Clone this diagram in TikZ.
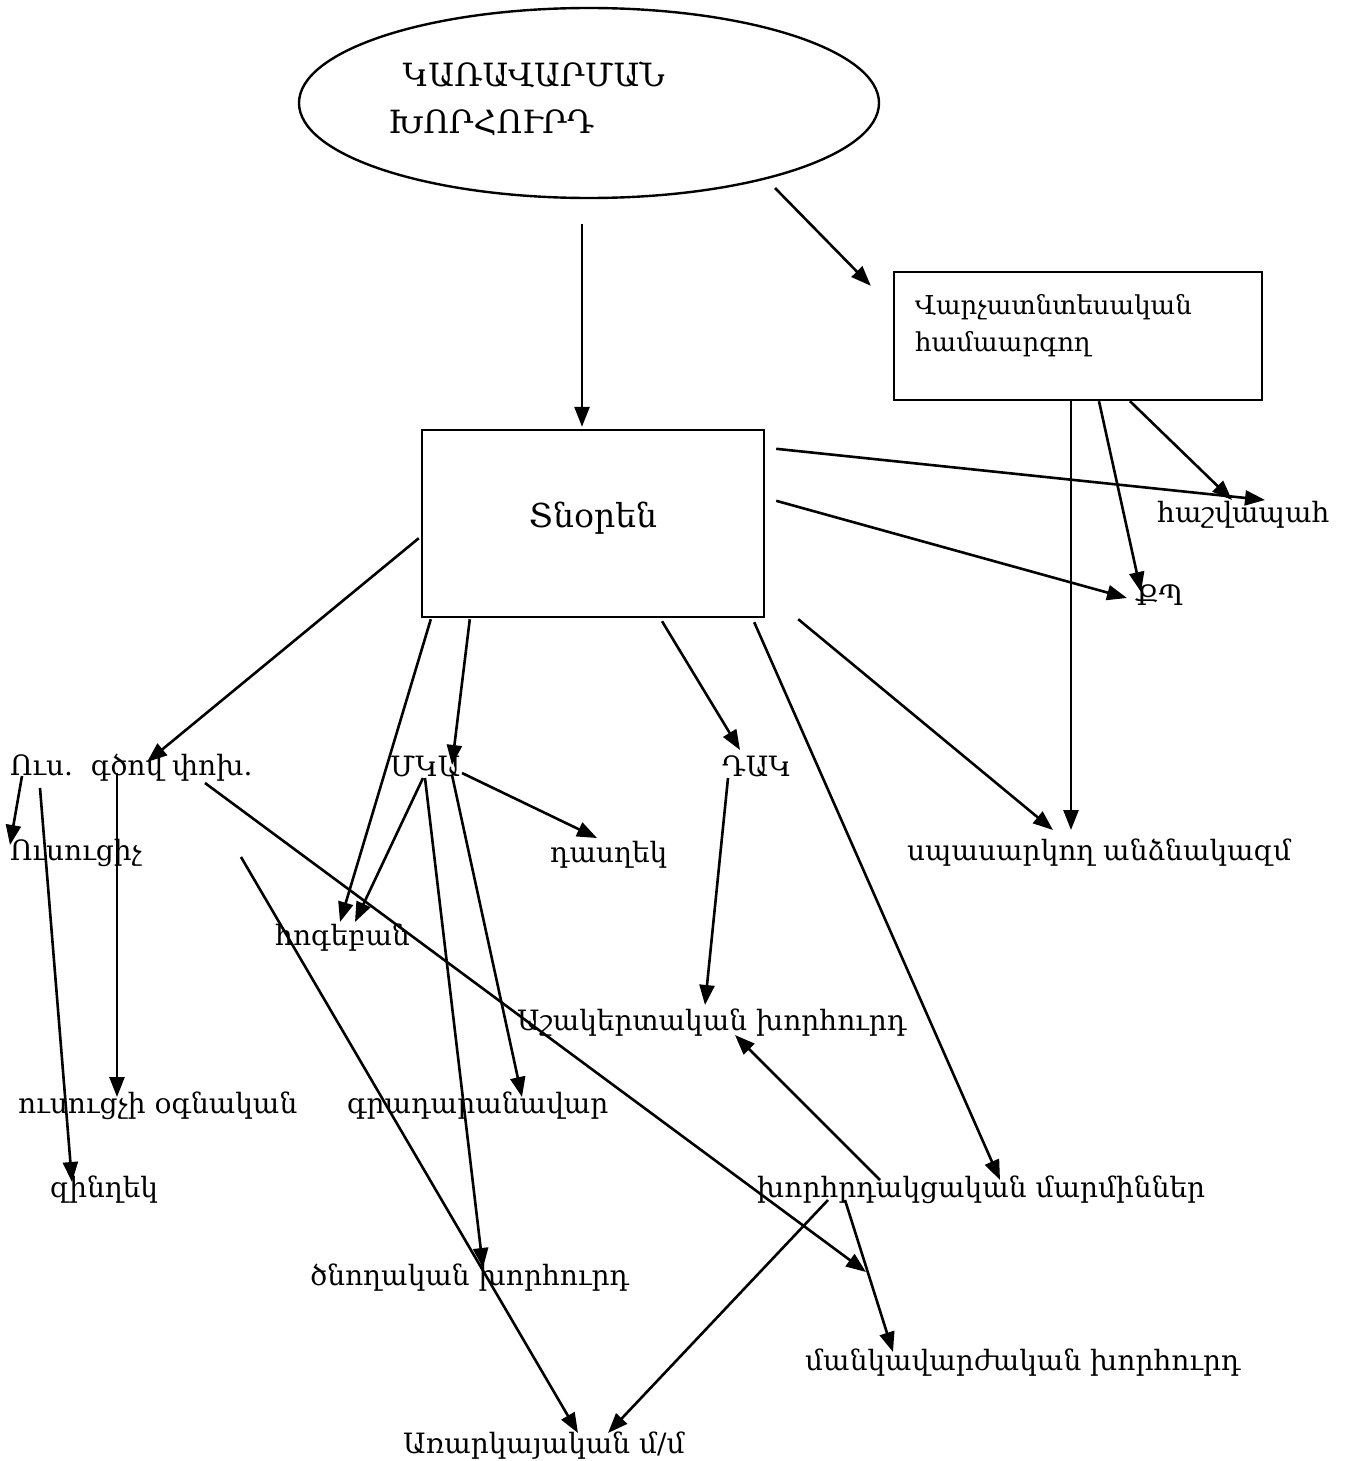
\documentclass[tikz,border=0pt]{standalone}
\usepackage{fontspec}
\setmainfont{DejaVu Serif}
\usetikzlibrary{shapes.geometric,arrows.meta}

\begin{document}
\begin{tikzpicture}[x=1pt,y=-1pt]
\tikzstyle{lbl} = [anchor=base west, inner sep=0, font=\fontsize{28}{37}\selectfont]
\tikzstyle{arrow} = [-{Triangle[length=20pt,width=15pt]}, line width=2.6pt]
\tikzstyle{frame} = [draw, line width=2.4pt, inner sep=0]
\useasboundingbox (0,0) rectangle (1349,1461);

% top level
\node[frame, ellipse, minimum width=580, minimum height=190] (council) at (589,103) {};
\node[anchor=north west, inner sep=0, align=left, font=\fontsize{32}{47}\selectfont] (counciltext) at (388,62) {\hspace{0.45em}ԿԱՌԱՎԱՐՄԱՆ\\ԽՈՐՀՈՒՐԴ};
\node[frame, minimum width=368, minimum height=128] (admin) at (1078,336) {};
\node[anchor=north west, inner sep=0, align=left, font=\fontsize{26}{37}\selectfont] (admintext) at (915,294) {Վարչատնտեսական\\համաարգող};
\node[frame, minimum width=342, minimum height=187, text height=24, text depth=16, font=\fontsize{33}{40}\selectfont] (dir) at (593,523.5) {Տնօրեն};

% labels
\node[lbl] (acct) at (1157,522) {հաշվապահ};
\node[lbl] (qp) at (1135,605) {ՔՊ};
\node[lbl] (deputy) at (10,775) {Ուս.\ \ գծով փոխ.};
\node[lbl] (teacher) at (10,860) {Ուսուցիչ};
\node[lbl] (mka) at (390,776) {ՄԿԱ};
\node[lbl] (dak) at (722,776) {ԴԱԿ};
\node[lbl] (classhead) at (550,862) {դասղեկ};
\node[lbl] (staff) at (907,860) {սպասարկող անձնակազմ};
\node[lbl] (psych) at (275,945) {հոգեբան};
\node[lbl] (stcouncil) at (517,1030) {Աշակերտական խորհուրդ};
\node[lbl] (assist) at (18,1113) {ուսուցչի օգնական};
\node[lbl] (librarian) at (347,1113) {գրադարանավար};
\node[lbl] (military) at (50,1197) {զինղեկ};
\node[lbl] (advisory) at (757,1197) {խորհրդակցական մարմիններ};
\node[lbl] (parents) at (310,1285) {ծնողական խորհուրդ};
\node[lbl] (pedcouncil) at (805,1370) {մանկավարժական խորհուրդ};
\node[lbl] (subject) at (403,1453) {Առարկայական մ/մ};
\coordinate (loosestart) at (241,857);
\coordinate (looseend) at (866,1272);

% from council and admin
\draw[arrow] ([shift={(-7,25)}]council.south) -- ([shift={(-11,-2)}]dir.north);
\draw[arrow] ([shift={(186,85)}]council.center) -- ([shift={(-22,15)}]admin.north west);
\draw[arrow] ([xshift=-7]admin.south) -- ([shift={(164,-30)}]staff.base west);
\draw[arrow] ([xshift=21]admin.south) -- ([shift={(6,-13)}]qp.base west);
\draw[arrow] ([xshift=52]admin.south) -- ([shift={(75,-22)}]acct.base west);

% from director
\draw[arrow] ([shift={(11,20)}]dir.north east) -- ([shift={(108,-22)}]acct.base west);
\draw[arrow] ([shift={(11,72)}]dir.north east) -- ([shift={(-8,-7)}]qp.base west);
\draw[arrow] ([shift={(33,1)}]dir.south east) -- ([shift={(146,-30)}]staff.base west);
\draw[arrow] ([shift={(-11,4)}]dir.south east) -- ([shift={(243,-17)}]advisory.base west);
\draw[arrow] ([shift={(69,3)}]dir.south) -- ([shift={(18,-26)}]dak.base west);
\draw[arrow] ([shift={(49,1)}]dir.south west) -- ([shift={(62,-11)}]mka.base west);
\draw[arrow] ([shift={(10,1)}]dir.south west) -- ([shift={(65,-23)}]psych.base west);
\draw[arrow] ([shift={(-2,-80)}]dir.south west) -- ([shift={(137,-13)}]deputy.base west);

% from deputy
\draw[arrow] ([shift={(12,1)}]deputy.base west) -- ([shift={(0,-15)}]teacher.base west);
\draw[arrow] ([shift={(30,13)}]deputy.base west) -- ([shift={(22,-15)}]military.base west);
\draw[arrow] ([shift={(107,-2)}]deputy.base west) -- ([shift={(99,-16)}]assist.base west);
\draw[arrow] ([shift={(195,8)}]deputy.base west) -- (looseend);

% from MKA
\draw[arrow] ([shift={(72,-3)}]mka.base west) -- ([shift={(47,-24)}]classhead.base west);
\draw[arrow] ([shift={(33,2)}]mka.base west) -- ([shift={(80,-23)}]psych.base west);
\draw[arrow] ([shift={(35,2)}]mka.base west) -- ([shift={(173,-17)}]parents.base west);
\draw[arrow] ([shift={(62,-1)}]mka.base west) -- ([shift={(175,-16)}]librarian.base west);

% the rest
\draw[arrow] ([shift={(6,2)}]dak.base west) -- ([shift={(188,-25)}]stcouncil.base west);
\draw[arrow] (loosestart) -- ([shift={(175,-20)}]subject.base west);
\draw[arrow] ([shift={(123,-17)}]advisory.base west) -- ([shift={(218,5)}]stcouncil.base west);
\draw[arrow] ([shift={(71,3)}]advisory.base west) -- ([shift={(205,-20)}]subject.base west);
\draw[arrow] ([shift={(88,3)}]advisory.base west) -- ([shift={(88,-18)}]pedcouncil.base west);
\end{tikzpicture}
\end{document}
